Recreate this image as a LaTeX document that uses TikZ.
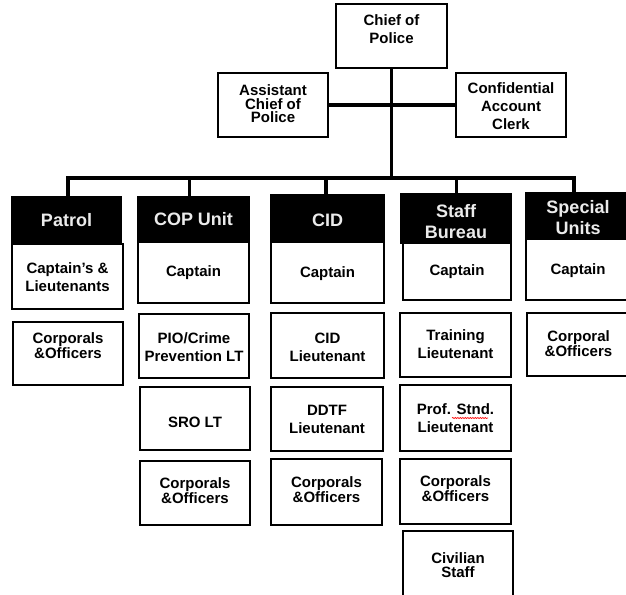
\documentclass[tikz,border=0pt]{standalone}
\usepackage{fontspec}
\setmainfont{Liberation Sans}
\usetikzlibrary{decorations.pathmorphing}
\definecolor{hdrtext}{gray}{0.92}
\newcommand\orgbox[9]{%
  \node[#2, minimum width=#6pt, minimum height=#7pt] (#1) at (#4,#5) {};
  \node[#3] (#1-t) at (#4,#8) {#9};}
\begin{document}
\begin{tikzpicture}[x=1pt,y=-1pt,
  box/.style={draw=black, line width=2pt, fill=white, inner sep=0pt},
  hdr/.style={draw=black, line width=2pt, fill=black, inner sep=0pt},
  txt/.style={font=\bfseries\fontsize{15}{18}\selectfont, align=center, inner sep=0pt},
  tighttxt/.style={font=\bfseries\fontsize{15}{13.5}\selectfont, align=center, inner sep=0pt},
  htxt/.style={font=\bfseries\fontsize{18}{21}\selectfont, text=hdrtext, align=center, inner sep=0pt},
  conn/.style={draw=black, line width=3.5pt}]
\useasboundingbox (0,0) rectangle (626,594);
\fill[white] (0,0) rectangle (626,594);
% top
\orgbox{chief}{box}{txt}{391.5}{36}{111}{64}{29}{Chief of\\Police}
\orgbox{asst}{box}{tighttxt}{273}{105}{110}{64}{104}{Assistant\\Chief of\\Police}
\orgbox{conf}{box}{txt}{511}{105}{110}{64}{106}{Confidential\\Account\\Clerk}
% patrol
\orgbox{patrol}{hdr}{htxt}{66.5}{219.5}{109}{45}{220}{Patrol}
\orgbox{patrolcap}{box}{txt}{67.5}{276.5}{111}{65}{277}{Captain’s \&\\Lieutenants}
\orgbox{patrolcorp}{box}{tighttxt}{68}{353.5}{110}{63}{346}{Corporals\\\&Officers}
% COP
\orgbox{cop}{hdr}{htxt}{193.5}{219.5}{111}{45}{219}{COP Unit}
\orgbox{copcap}{box}{txt}{193.5}{272.5}{111}{61}{273}{Captain}
\orgbox{pio}{box}{txt}{194}{346}{110}{64}{347}{PIO/Crime\\Prevention LT}
\orgbox{sro}{box}{txt}{195}{418.5}{110}{63}{422}{SRO LT}
\orgbox{copcorp}{box}{tighttxt}{195}{493}{110}{64}{491}{Corporals\\\&Officers}
% CID
\orgbox{cid}{hdr}{htxt}{327.5}{218.5}{113}{47}{220}{CID}
\orgbox{cidcap}{box}{txt}{327.5}{272.5}{113}{61}{274}{Captain}
\orgbox{cidlt}{box}{txt}{327.5}{345.5}{113}{65}{347}{CID\\Lieutenant}
\orgbox{ddtf}{box}{txt}{327}{419}{112}{64}{419}{DDTF\\Lieutenant}
\orgbox{cidcorp}{box}{tighttxt}{326.5}{492}{111}{66}{490}{Corporals\\\&Officers}
% Staff
\orgbox{staff}{hdr}{htxt}{456}{218.5}{110}{49}{221.5}{Staff\\Bureau}
\orgbox{staffcap}{box}{txt}{457}{271.5}{108}{57}{272}{Captain}
\orgbox{train}{box}{txt}{455.5}{345}{111}{64}{344}{Training\\Lieutenant}
\orgbox{prof}{box}{txt}{455.5}{418}{111}{66}{418}{Prof. Stnd.\\Lieutenant}
\orgbox{staffcorp}{box}{tighttxt}{455.5}{491.5}{111}{65}{489}{Corporals\\\&Officers}
\orgbox{civ}{box}{tighttxt}{458}{565.5}{110}{69}{565}{Civilian\\Staff}
% Special
\orgbox{special}{hdr}{htxt}{578}{216}{104}{46}{218}{Special\\Units}
\orgbox{speccap}{box}{txt}{578}{269.5}{104}{61}{271}{Captain}
\orgbox{speccorp}{box}{tighttxt}{578.5}{344.5}{103}{63}{344}{Corporal\\\&Officers}
% spell-check underline
\draw[red, line width=0.6pt, decorate, decoration={snake, amplitude=0.6pt, segment length=2.5pt}] (452,418) -- (488,418);
% connectors
\coordinate (d1) at (68,178);
\coordinate (d2) at (189.5,178);
\coordinate (d3) at (326,178);
\coordinate (d4) at (456.5,178);
\coordinate (d5) at (574,178);
\draw[conn] (chief.south) -- (chief.south |- d1);
\draw[conn] (asst.east) -- (conf.west);
\draw[conn] (d1 |- patrol.north) -- (d1) -- (d5) -- (d5 |- special.north);
\draw[conn] (d2) -- (d2 |- cop.north);
\draw[conn] (d3) -- (d3 |- cid.north);
\draw[conn] (d4) -- (d4 |- staff.north);
\end{tikzpicture}
\end{document}
